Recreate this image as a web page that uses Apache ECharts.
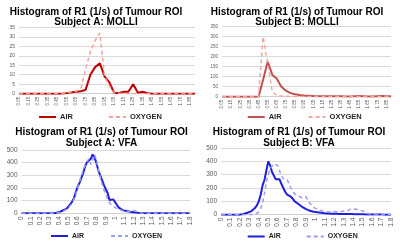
<!DOCTYPE html>
<html>
<head>
<meta charset="utf-8">
<script src="https://cdn.jsdelivr.net/npm/echarts@6/dist/echarts.min.js"></script>
<style>
html, body { margin: 0; padding: 0; background: #fff; }
.panel { position: absolute; width: 200px; }
</style>
</head>
<body>
<div class="panel" id="molliA" style="left:0;top:0;height:124px"></div>
<div class="panel" id="molliB" style="left:200px;top:0;height:124px"></div>
<div class="panel" id="vfaA" style="left:0;top:124px;height:125px"></div>
<div class="panel" id="vfaB" style="left:200px;top:124px;height:125px"></div>
<script>
var titleLine = 'Histogram of R1 (1/s) of Tumour ROI'
var seriesNames = ['AIR', 'OXYGEN']

// MOLLI bins (1/s)
var molliBins = ['0.05', '0.10', '0.15', '0.20', '0.25', '0.30', '0.35', '0.40', '0.45', '0.50',
  '0.55', '0.60', '0.65', '0.70', '0.75', '0.80', '0.85', '0.90', '0.95', '1.00',
  '1.05', '1.10', '1.15', '1.20', '1.25', '1.30', '1.35', '1.40', '1.45', '1.50',
  '1.55', '1.60', '1.65', '1.70', '1.75', '1.80', '1.85', '1.90']
var molliAAir = [0, 0, 0, 0, 0, 0, 0, 0, 0, 0,
  0.3, 0.7, 1, 1.3, 2, 10, 14, 16, 9, 6, 0.5, 0.3, 1, 1, 5, 0.5, 1, 0.3,
  0, 0, 0, 0, 0, 0, 0, 0, 0, 0]
var molliAO2 = [0, 0, 0, 0, 0, 0, 0, 0, 0, 0,
  0.5, 1, 1.2, 2.5, 13, 22, 28, 32, 9, 4, 0.5, 0.2,
  0, 0, 0, 0, 0, 0, 0, 0, 0, 0, 0, 0, 0, 0, 0, 0]
var molliBAir = [0, 0, 0, 0, 0, 0, 0, 0, 0,
  85, 175, 110, 90, 50, 30, 18, 12, 8, 6, 5, 3, 2, 2, 2, 2, 2, 2, 1, 1, 2, 3, 2, 1, 1, 2, 3, 2, 2]
var molliBO2 = [0, 0, 0, 0, 0, 0, 0, 0, 0,
  300, 170, 25, 6, 3, 2, 1, 1, 1, 1, 1,
  0.5, 0.5, 0.5, 0.5, 0.5, 0.5, 0.5, 0.5, 0.5, 0.5, 0.5, 0.5, 0.5, 0.5, 0.5, 0.5, 0.5, 0.5]

// VFA bins 0 .. 1.8 step 0.02
var vfaBins = []
for (var i = 0; i <= 90; i++) vfaBins.push(String(+(i * 0.02).toFixed(2)))
var vfaAAir = [0, 0, 0, 0, 0, 0, 0, 0, 0, 0, 0, 0, 0, 0, 0, 0, 0, 0,
  2, 3, 8, 15, 22, 28, 35, 50, 70, 90, 120, 165, 210, 240, 280, 320, 370, 405, 415, 430,
  465, 440, 400, 340, 300, 265, 225, 190, 160, 105, 95, 110, 105, 65, 45, 35, 25, 20, 18, 15,
  12, 10, 8, 6, 5, 4, 3, 2,
  0, 0, 0, 0, 0, 0, 0, 0, 0, 0, 0, 0, 0, 0, 0, 0, 0, 0, 0, 0, 0, 0, 0, 0, 0]
var vfaAO2 = [0, 0, 0, 0, 0, 0, 0, 0, 0, 0, 0, 0, 0, 0, 0, 0, 0, 0,
  0, 2, 5, 10, 15, 22, 30, 45, 60, 80, 110, 150, 200, 250, 300, 340, 380, 410, 430, 385,
  420, 465, 420, 350, 290, 235, 185, 150, 110, 85, 65, 55, 45, 40, 30, 25, 20, 15, 12, 10,
  15, 20, 25, 15, 8, 5, 3, 2,
  0, 0, 0, 0, 0, 0, 0, 0, 0, 0, 0, 0, 0, 0, 0, 0, 0, 0, 0, 0, 0, 0, 0, 0, 0]
var vfaBAir = [0, 0, 0, 0, 0, 0, 0, 0, 0, 0, 0,
  2, 5, 10, 15, 20, 25, 35, 50, 70, 100, 150, 220, 260, 330, 400, 370, 320, 330, 265, 260,
  265, 230, 200, 170, 150, 150, 135, 120, 100, 90, 80, 70, 58, 50, 42, 35, 30, 26, 22, 20,
  18, 16, 14, 12, 10, 10, 9, 8, 8, 8, 7, 6, 6, 5, 5, 5, 5, 5, 5, 5,
  4, 4, 3, 3, 3, 2, 2, 2, 2, 2, 1, 1, 1, 1, 1,
  0, 0, 0, 0, 0]
var vfaBO2 = [0, 0, 0, 0, 0, 0, 0, 0, 0, 0, 0, 0, 0, 0, 0, 0, 0, 0,
  2, 8, 20, 45, 90, 160, 240, 300, 340, 365, 380, 385, 370, 330, 290, 270, 275, 265, 230, 200,
  175, 155, 145, 140, 135, 125, 120, 135, 110, 85, 70, 55, 48, 40, 35, 30, 28, 25, 22, 20,
  22, 25, 25, 22, 20, 22, 25, 28, 25, 30, 35, 45, 50, 42, 38, 35, 33, 28, 20, 12,
  8, 6, 5, 4, 3, 2, 2, 1, 1, 0, 0, 0, 0]

var font = 'Liberation Sans, Arial, sans-serif'

function buildOption (p) {
  return {
    animation: false,
    title: {
      text: titleLine + '\n' + p.subject,
      left: p.titleX,
      top: p.titleTop,
      textAlign: 'center',
      padding: 0,
      textStyle: { fontFamily: font, fontSize: 10, fontWeight: 'bold', color: '#000', lineHeight: 10.5 }
    },
    legend: {
      data: seriesNames,
      left: p.legendX,
      top: p.legendTop,
      padding: 0,
      itemWidth: 17,
      itemHeight: 8,
      itemGap: p.legendGap,
      // line only, hide the marker drawn on the legend line
      itemStyle: { opacity: 0 },
      textStyle: { fontFamily: font, fontSize: p.legendFont, fontWeight: 'bold', color: '#262626', padding: [0, 0, 0, -1] }
    },
    grid: { left: p.grid[0], top: p.grid[1], width: p.grid[2], height: p.grid[3] },
    xAxis: {
      type: 'category',
      boundaryGap: false,
      data: p.bins,
      axisLine: { lineStyle: { color: '#d0d0d0' } },
      axisTick: { show: false },
      axisLabel: { rotate: 90, interval: p.labelEvery, margin: 3, fontFamily: font, fontSize: p.xFont, color: '#595959' }
    },
    yAxis: {
      type: 'value',
      min: 0,
      max: p.yMax,
      interval: p.yStep,
      axisLine: { show: false },
      axisTick: { show: false },
      splitLine: { lineStyle: { color: '#d9d9d9' } },
      axisLabel: { margin: 4, fontFamily: font, fontSize: p.yFont, color: '#595959' }
    },
    series: [
      {
        name: 'AIR', type: 'line', data: p.air, symbol: 'none',
        lineStyle: { color: p.airColor, width: 2 }, itemStyle: { color: p.airColor }
      },
      {
        name: 'OXYGEN', type: 'line', data: p.o2, symbol: 'none',
        lineStyle: { color: p.o2Color, width: 1.5, type: [4, 3] }, itemStyle: { color: p.o2Color }
      }
    ]
  }
}

var panels = [
  { el: 'molliA', subject: 'Subject A: MOLLI', bins: molliBins, air: molliAAir, o2: molliAO2,
    airColor: '#c00000', o2Color: '#f4a29c', yMax: 35, yStep: 5, yFont: 5, xFont: 4.5, labelEvery: 1,
    grid: [19, 27.3, 176, 66.4], titleX: 96, titleTop: 6.5, legendX: 38, legendTop: 113, legendGap: 35, legendFont: 7.5 },
  { el: 'molliB', subject: 'Subject B: MOLLI', bins: molliBins, air: molliBAir, o2: molliBO2,
    airColor: '#c0504d', o2Color: '#f2a8a2', yMax: 350, yStep: 50, yFont: 4.5, xFont: 4.5, labelEvery: 1,
    grid: [22, 26.7, 169, 70], titleX: 97, titleTop: 6.5, legendX: 46.7, legendTop: 113, legendGap: 26, legendFont: 7.5 },
  { el: 'vfaA', subject: 'Subject A: VFA', bins: vfaBins, air: vfaAAir, o2: vfaAO2,
    airColor: '#1f1fdc', o2Color: '#9c9cf0', yMax: 500, yStep: 100, yFont: 6.5, xFont: 6.5, labelEvery: 4,
    grid: [21.5, 26, 168.5, 63.3], titleX: 101.5, titleTop: 3, legendX: 50, legendTop: 108.5, legendGap: 26, legendFont: 7 },
  { el: 'vfaB', subject: 'Subject B: VFA', bins: vfaBins, air: vfaBAir, o2: vfaBO2,
    airColor: '#1f1fdc', o2Color: '#9c9cf0', yMax: 500, yStep: 100, yFont: 6.5, xFont: 6.5, labelEvery: 4,
    grid: [21, 24, 170, 66.7], titleX: 99, titleTop: 3, legendX: 46.7, legendTop: 109, legendGap: 25, legendFont: 7 }
]

panels.forEach(function (p) {
  var chart = echarts.init(document.getElementById(p.el))
  chart.setOption(buildOption(p))
})
</script>
</body>
</html>
